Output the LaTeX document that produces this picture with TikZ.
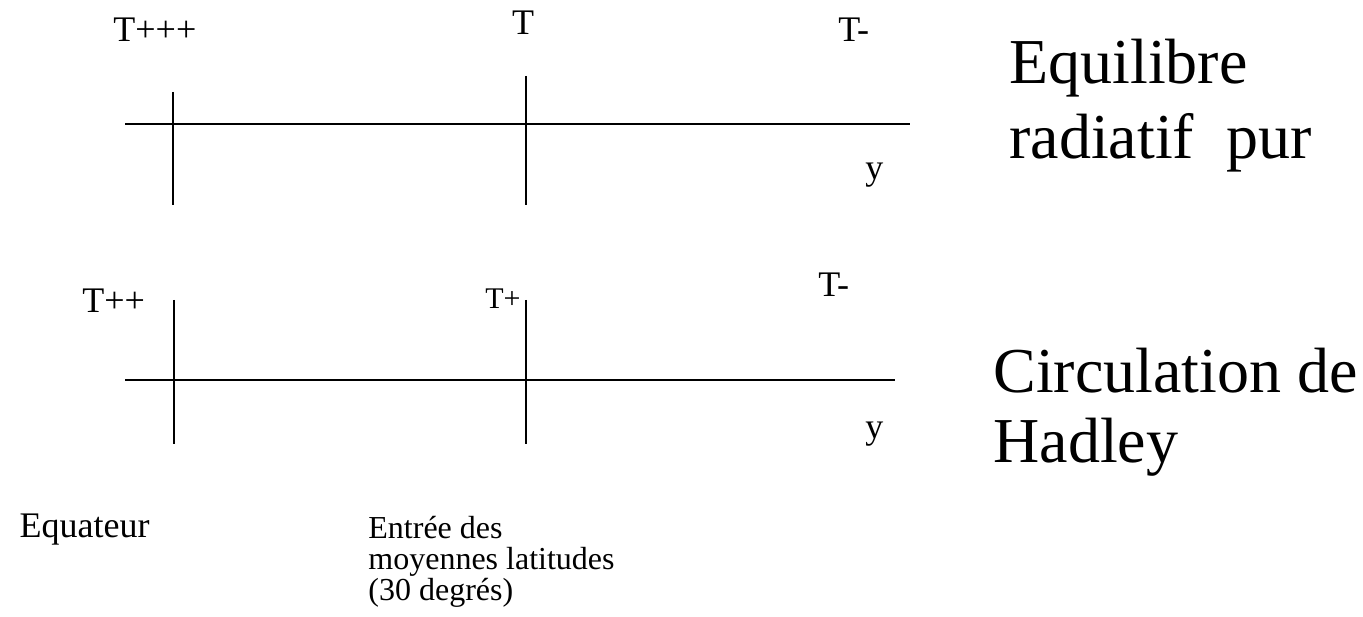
\documentclass[tikz,border=0pt]{standalone}
\usepackage{fontspec}
\setmainfont{Liberation Serif}
\usetikzlibrary{positioning}
\tikzset{
  axe/.style={line width=1pt},
  lbl/.style={font=\fontsize{18}{21}\selectfont,inner sep=0pt,anchor=base west},
  note/.style={font=\fontsize{16}{15.5}\selectfont,inner sep=0pt,align=left,anchor=north west},
  title/.style={font=\fontsize{32}{#1}\selectfont,inner sep=0pt,align=left,anchor=north west},
  title/.default=37.5pt,
}
\begin{document}
\begin{tikzpicture}[x=0.5pt,y=0.5pt]
  \useasboundingbox (0,0) rectangle (1363,616);
  % equilibre radiatif
  \coordinate (h1w) at (125,492); \coordinate (h1e) at (910,492);
  \coordinate (eq1t) at (173,524); \coordinate (eq1b) at (173,411);
  \coordinate (ml1t) at (526,540); \coordinate (ml1b) at (526,411);
  \draw[axe] (h1w) -- (h1e);
  \draw[axe] (eq1t) -- (eq1b);
  \draw[axe] (ml1t) -- (ml1b);
  \node[lbl] (teq1) at (113,574) {T+++};
  \node[lbl,anchor=base] (tml1) at (523,581) {T};
  \node[lbl] (tpo1) at (838,574) {T-};
  \node[lbl] (y1) at (865,436) {y};
  % circulation de Hadley
  \coordinate (h2w) at (125,236); \coordinate (h2e) at (895,236);
  \coordinate (eq2t) at (174,316); \coordinate (eq2b) at (174,172);
  \coordinate (ml2t) at (526,316); \coordinate (ml2b) at (526,172);
  \draw[axe] (h2w) -- (h2e);
  \draw[axe] (eq2t) -- (eq2b);
  \draw[axe] (ml2t) -- (ml2b);
  \node[lbl] (teq2) at (82,303) {T++};
  \node[lbl,font=\fontsize{15}{18}\selectfont] (tml2) at (485,307) {T+};
  \node[lbl] (tpo2) at (818,319) {T-};
  \node[lbl] (y2) at (865,178) {y};
  % legendes
  \node[lbl,anchor=base east] (equat) at (150,79) {Equateur};
  \node[note] (entree) at (368,100) {Entrée des\\moyennes latitudes\\(30 degrés)};
  \node[title] (radia) at (1009,577) {Equilibre\\radiatif\ \ pur};
  \node[title=35pt] (hadley) at (993,268) {Circulation de\\Hadley};
\end{tikzpicture}
\end{document}
